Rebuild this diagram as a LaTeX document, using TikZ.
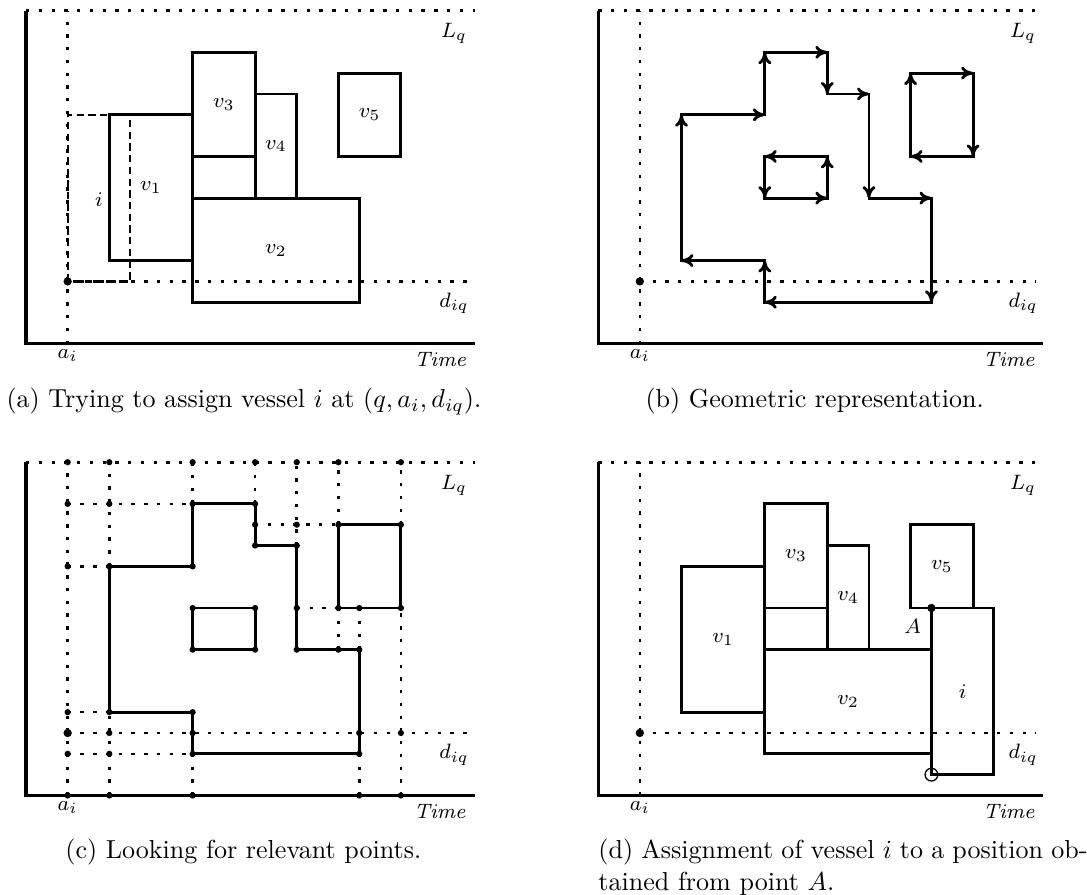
\documentclass[tikz,border=0pt]{standalone}
\usetikzlibrary{arrows.meta}
\tikzset{
  solidln/.style={line width=1.1pt},
  axisln/.style={line width=1.2pt},
  dotln/.style={line width=1pt, dash pattern=on 1.3pt off 3.6pt},
  dashln/.style={line width=0.85pt, dash pattern=on 2.8pt off 1.7pt},
  arr/.style={line width=1.1pt, line cap=rect, -{Computer Modern Rightarrow[length=4.6pt,width=5pt]}},
  lbl/.style={inner sep=0pt, font=\fontsize{7.9}{9}\selectfont},
  capt/.style={inner sep=0pt, anchor=base west, font=\fontsize{10}{12}\selectfont},
  smdot/.style={circle, fill=black, inner sep=0pt, minimum size=2.4pt},
  bigdot/.style={circle, fill=black, inner sep=0pt, minimum size=3.2pt},
  opendot/.style={circle, draw=black, line width=0.5pt, inner sep=0pt, minimum size=4.9pt},
}
\newcommand\axesframe[5]{%
  \draw[axisln] (0,16) -- (0,0) -- (#1,0);
  \draw[dotln] (0,16) -- (#1,16);
  \draw[dotln] (2,0) -- (2,16);
  \draw[dotln] (2,3) -- (#2,3);
  \node[lbl] (#5Lq) at (#3,14.9) {$L_q$};
  \node[lbl] (#5diq) at (#3,1.95) {$d_{iq}$};
  \node[lbl, anchor=north] (#5ai) at (2,-0.25) {$a_i$};
  \node[lbl, anchor=east] (#5time) at (#4,-0.75) {$\mathit{Time}$};
}
\begin{document}
\begin{tikzpicture}[x=8pt,y=8pt]
\useasboundingbox (-1.248,-26.45) rectangle (50.94,16.51);

% ---------------- panel (a)
\begin{scope}
  \axesframe{21.55}{21.25}{20.55}{21.22}{a}
  \draw[solidln] (4,4) rectangle (8,11);
  \draw[solidln] (8,9) rectangle (11,14);
  \draw[solidln] (11,7) rectangle (13,12);
  \draw[solidln] (8,2) rectangle (16,7);
  \draw[solidln] (15,9) rectangle (18,13);
  \draw[dashln] (2,3) rectangle (5,11);
  \node[bigdot] (aP) at (2,3) {};
  \node[lbl] (av1) at (6,7.5) {$v_1$};
  \node[lbl] (av3) at (9.5,11.5) {$v_3$};
  \node[lbl] (av4) at (12,9.5) {$v_4$};
  \node[lbl] (av2) at (12,4.5) {$v_2$};
  \node[lbl] (av5) at (16.5,11) {$v_5$};
  \node[lbl] (ai) at (3.5,6.95) {$i$};
\end{scope}

% ---------------- panel (b)
\begin{scope}[shift={(27.47,0)}]
  \axesframe{21.36}{21.0}{20.4}{21.05}{b}
  \node[bigdot] (bP) at (2,3) {};
  \foreach \a/\b in {{4,4}/{4,11},{4,11}/{8,11},{8,11}/{8,14},{8,14}/{11,14},
      {11,14}/{11,12},{11,12}/{13,12},{13,12}/{13,7},{13,7}/{16,7},
      {16,7}/{16,2},{16,2}/{8,2},{8,2}/{8,4},{8,4}/{4,4},
      {8,9}/{8,7},{8,7}/{11,7},{11,7}/{11,9},{11,9}/{8,9},
      {15,9}/{15,13},{15,13}/{18,13},{18,13}/{18,9},{18,9}/{15,9}}
    \draw[arr] (\a) -- (\b);
\end{scope}

% ---------------- panel (c)
\begin{scope}[shift={(0,-21.68)}]
  \axesframe{21.55}{21.4}{20.55}{21.2}{c}
  \draw[dotln] (4,11) -- (4,16);
  \draw[dotln] (4,0) -- (4,4);
  \draw[dotln] (8,14) -- (8,16);
  \draw[dotln] (8,0) -- (8,2);
  \draw[dotln] (11,14) -- (11,16);
  \draw[dotln] (13,12) -- (13,16);
  \draw[dotln] (15,13) -- (15,16);
  \draw[dotln] (15,7) -- (15,9);
  \draw[dotln] (16,7) -- (16,9);
  \draw[dotln] (16,0) -- (16,2);
  \draw[dotln] (18,13) -- (18,16);
  \draw[dotln] (18,0) -- (18,9);
  \draw[dotln] (2,14) -- (8,14);
  \draw[dotln] (11,13) -- (15,13);
  \draw[dotln] (2,11) -- (4,11);
  \draw[dotln] (13,9) -- (15,9);
  \draw[dotln] (2,4) -- (4,4);
  \draw[dotln] (2,2) -- (8,2);
  \draw[solidln] (4,4) -- (4,11) -- (8,11) -- (8,14) -- (11,14) -- (11,12) -- (13,12)
      -- (13,7) -- (16,7) -- (16,2) -- (8,2) -- (8,4) -- cycle;
  \draw[solidln] (8,7) rectangle (11,9);
  \draw[solidln] (15,9) rectangle (18,13);
  \foreach \p in {{2,16},{4,16},{8,16},{11,16},{13,16},{15,16},{18,16},
      {2,14},{4,14},{8,14},{11,14},
      {11,13},{13,13},{15,13},{18,13},
      {11,12},{13,12},
      {2,11},{4,11},{8,11},
      {8,9},{11,9},{13,9},{15,9},{16,9},{18,9},
      {8,7},{11,7},{13,7},{15,7},{16,7},
      {2,4},{4,4},{8,4},
      {4,3},{8,3},{16,3},{18,3},
      {2,2},{4,2},{8,2},{16,2},
      {2,0},{4,0},{8,0},{16,0},{18,0}}
    \node[smdot] at (\p) {};
  \node[bigdot] (cP) at (2,3) {};
\end{scope}

% ---------------- panel (d)
\begin{scope}[shift={(27.47,-21.68)}]
  \axesframe{21.36}{21.0}{20.4}{21.05}{d}
  \draw[solidln] (4,4) rectangle (8,11);
  \draw[solidln] (8,9) rectangle (11,14);
  \draw[solidln] (11,7) rectangle (13,12);
  \draw[solidln] (8,2) rectangle (16,7);
  \draw[solidln] (15,9) rectangle (18,13);
  \draw[solidln] (16,1) rectangle (19,9);
  \node[bigdot] (dP) at (2,3) {};
  \node[bigdot] (dA) at (16,9) {};
  \node[opendot] (dO) at (16,1) {};
  \node[lbl] (dAl) at (15.1,8.1) {$A$};
  \node[lbl] (dv1) at (6,7.5) {$v_1$};
  \node[lbl] (dv3) at (9.5,11.5) {$v_3$};
  \node[lbl] (dv4) at (12,9.5) {$v_4$};
  \node[lbl] (dv2) at (12,4.5) {$v_2$};
  \node[lbl] (dv5) at (16.5,11) {$v_5$};
  \node[lbl] (di) at (17.5,5) {$i$};
\end{scope}

% ---------------- captions
\node[capt] (capa) at (-0.96,-3.05) {(a) Trying to assign vessel $i$ at $(q, a_i, d_{iq})$.};
\node[capt] (capb) at (29.72,-3.05) {(b) Geometric representation.};
\node[capt] (capc) at (1.87,-24.73) {(c) Looking for relevant points.};
\node[capt, text width=187.8pt, align=justify] (capd) at (27.46,-24.73)
  {(d) Assignment of vessel $i$ to a position ob-\linebreak tained from point $A$.};
\end{tikzpicture}
\end{document}
